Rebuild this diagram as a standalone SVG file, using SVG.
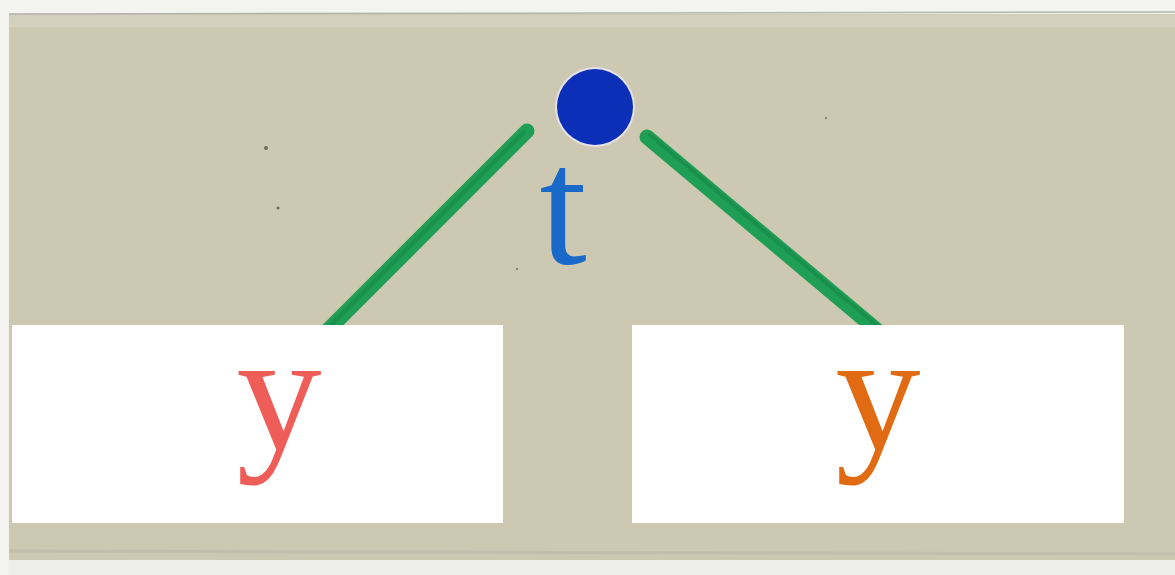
<svg xmlns="http://www.w3.org/2000/svg" width="1175" height="575" viewBox="0 0 1175 575">
<style>
.box{fill:#ffffff}
.lbl{font-family:"Liberation Serif","Times New Roman",serif;font-size:170px;text-anchor:middle}
.edge{stroke:#1f9e55;stroke-width:15;stroke-linecap:round;fill:none}
.edge2{stroke:#17874a;stroke-width:4;stroke-linecap:round;fill:none;opacity:0.6}
</style>
<rect x="0" y="0" width="1175" height="575" fill="#f3f3ef"/>
<rect x="9" y="14" width="1166" height="548" fill="#cdc8b2"/>
<rect x="9" y="15" width="1166" height="12" fill="#d3d0bd"/>
<line x1="9" y1="14" x2="1175" y2="12" stroke="#b3b3ad" stroke-width="1.5"/>
<line x1="9" y1="551" x2="1175" y2="554" stroke="#c2beac" stroke-width="3"/>
<rect x="9" y="560" width="1166" height="15" fill="#eeeeea"/>
<circle cx="266" cy="148" r="2" fill="#6b6b5e"/>
<circle cx="278" cy="208" r="1.5" fill="#6b6b5e"/>
<circle cx="826" cy="118" r="1.2" fill="#8a8a7e"/>
<circle cx="517" cy="269" r="1.2" fill="#8a8a7e"/>
<g id="connectors">
<line class="edge" x1="527" y1="131" x2="322" y2="336"/>
<line class="edge2" x1="524" y1="132" x2="320" y2="336"/>
<line class="edge" x1="647" y1="137" x2="884" y2="336"/>
<line class="edge2" x1="650" y1="135" x2="887" y2="334"/>
</g>
<g id="node-t">
<circle cx="595" cy="107" r="40" fill="#e4e2e8"/>
<circle cx="595" cy="107" r="38" fill="#0c2fb8"/>
<text class="lbl" x="563" y="263" fill="#1a68c8">t</text>
</g>
<g id="node-left">
<rect class="box" x="12" y="325" width="491" height="198"/>
<text class="lbl" x="279" y="449" fill="#ee5d57">y</text>
</g>
<g id="node-right">
<rect class="box" x="632" y="325" width="492" height="198"/>
<text class="lbl" x="878" y="449" fill="#e06b12">y</text>
</g>
</svg>
